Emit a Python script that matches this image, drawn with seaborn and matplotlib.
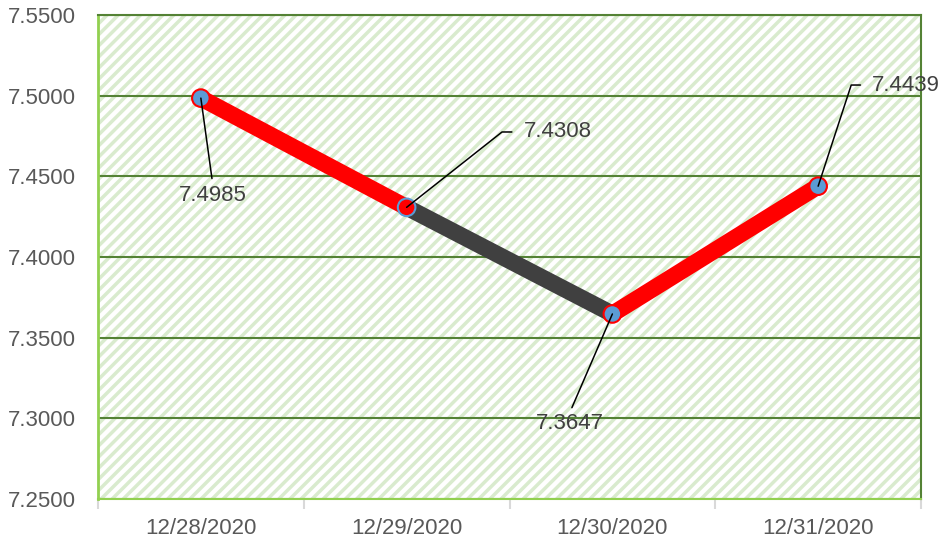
import matplotlib.pyplot as plt
import matplotlib.patches as mpatches
import numpy as np
import pandas as pd
import seaborn as sns

# data
dates = ['12/28/2020', '12/29/2020', '12/30/2020', '12/31/2020']
rates = [7.4985, 7.4308, 7.3647, 7.4439]

# styling
seg_colors = ['#FF0000', '#404040', '#FF0000']
face_colors = ['#5B9BD5', '#FF0000', '#5B9BD5', '#5B9BD5']
edge_colors = ['#FF0000', '#5B9BD5', '#FF0000', '#FF0000']
text_grey = '#595959'
dark_green = '#548235'
light_green = '#92D050'

sns.set_theme(style='white')
plt.rcParams['font.family'] = ['Liberation Sans', 'DejaVu Sans']
plt.rcParams['hatch.linewidth'] = 2.5

df = pd.DataFrame({'date': dates, 'rate': rates})
df['pos'] = np.arange(len(df))

fig = plt.figure(figsize=(9.43, 5.5), dpi=100)
ax = fig.add_axes([0.1039, 0.0927, 0.8728, 0.88])

# hatched plot background
ax.set_facecolor('white')
ax.add_patch(mpatches.Rectangle((0, 0), 1, 1, transform=ax.transAxes,
                                facecolor='white', edgecolor='#D9EBCE',
                                hatch='///', linewidth=0, zorder=0))

# thick coloured segments
for i in range(len(df) - 1):
    sns.lineplot(data=df.iloc[i:i + 2], x='pos', y='rate', color=seg_colors[i],
                 linewidth=12, solid_capstyle='round', ax=ax, zorder=3)

sns.scatterplot(data=df, x='pos', y='rate', hue='date',
                palette=dict(zip(dates, face_colors)), edgecolor=edge_colors,
                s=160, linewidth=1.5, legend=False, ax=ax, zorder=5)

# data labels with leader lines (text anchor in data coords, connection style)
label_xy = [(0.058, 7.4384), (1.568, 7.4775), (1.791, 7.2965), (3.262, 7.5066)]
label_ha = ['center', 'left', 'center', 'left']
label_rel = [(0.5, 1), (0, 0.5), (0.5, 1), (0, 0.5)]
label_conn = ['arc3', 'angle,angleA=0,angleB=38.3,rad=0',
              'arc3', 'angle,angleA=0,angleB=71.9,rad=0']
label_shrink = [2, 6, 2, 6]
for i, r in df.iterrows():
    ax.annotate('{:.4f}'.format(r['rate']), xy=(r['pos'], r['rate']),
                xytext=label_xy[i], ha=label_ha[i], va='center',
                fontsize=16, color='#404040', zorder=6,
                arrowprops=dict(arrowstyle='-', color='black', lw=1.1,
                                shrinkA=label_shrink[i], shrinkB=0,
                                relpos=label_rel[i],
                                connectionstyle=label_conn[i]))

# axes
ax.set_xlim(-0.5, 3.5)
ax.set_ylim(7.25, 7.55)
ax.set_yticks(np.arange(7.25, 7.5501, 0.05))
ax.set_yticklabels(['{:.4f}'.format(v) for v in np.arange(7.25, 7.5501, 0.05)])
ax.set_xticks(df['pos'])
ax.set_xticklabels(dates)
ax.set_xticks(np.arange(-0.5, 3.51, 1), minor=True)
ax.set_xlabel('')
ax.set_ylabel('')

ax.tick_params(axis='y', length=0, pad=16, labelsize=16, labelcolor=text_grey)
ax.tick_params(axis='x', which='major', length=0, pad=14, labelsize=16,
               labelcolor=text_grey)
ax.tick_params(axis='x', which='minor', length=7, width=1.5, color='#D9D9D9',
               direction='out', bottom=True)

ax.set_axisbelow(True)
ax.yaxis.grid(True, color=dark_green, linewidth=1.5, zorder=1)
ax.xaxis.grid(False)

ax.spines['top'].set_color(dark_green)
ax.spines['right'].set_color(dark_green)
ax.spines['left'].set_color(light_green)
ax.spines['bottom'].set_color(light_green)
for s in ax.spines.values():
    s.set_linewidth(1.5)
ax.spines['left'].set_linewidth(2)

fig.savefig('out.png', dpi=100)
